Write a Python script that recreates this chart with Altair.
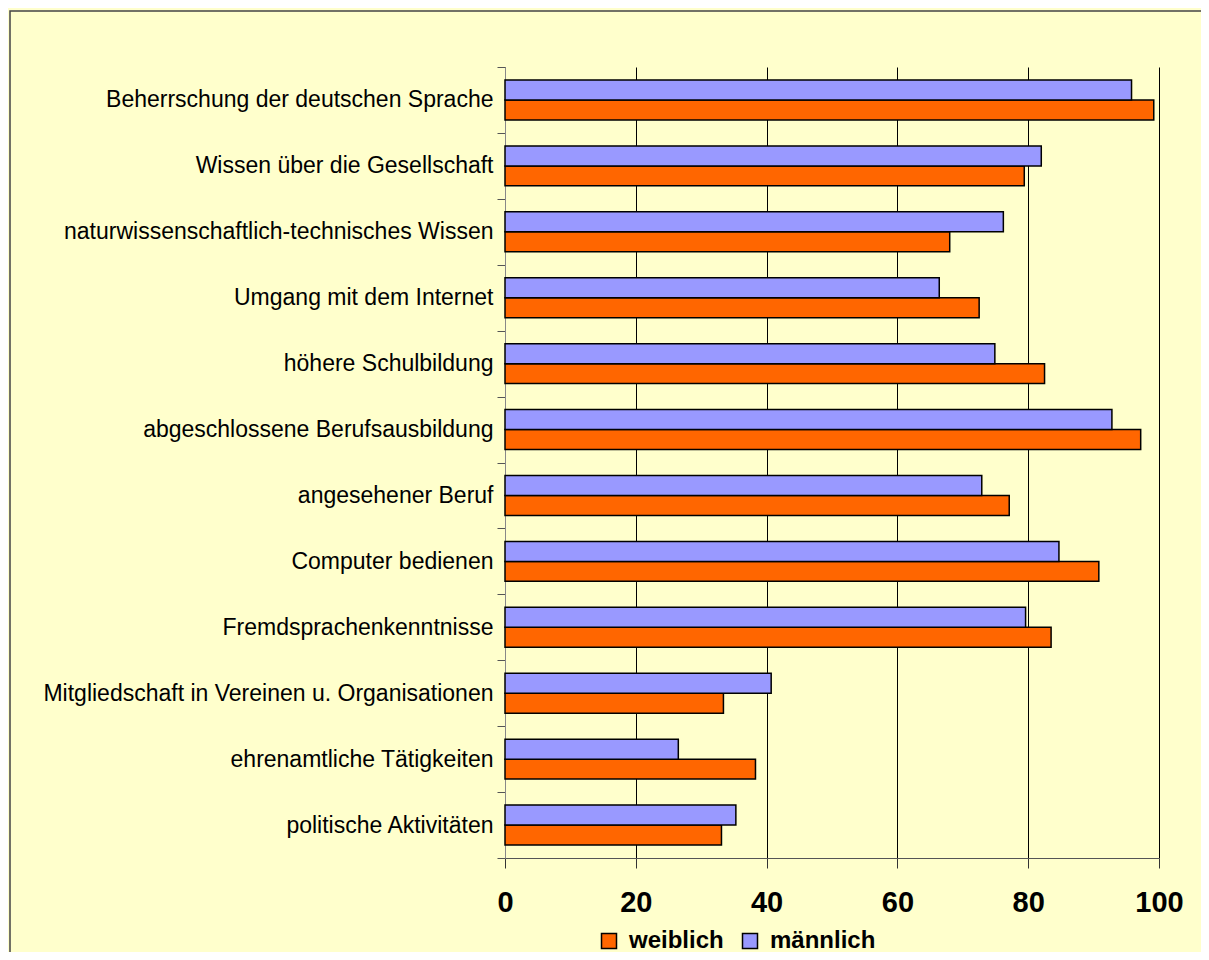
import altair as alt
import pandas as pd

categories = [
    "Beherrschung der deutschen Sprache",
    "Wissen über die Gesellschaft",
    "naturwissenschaftlich-technisches Wissen",
    "Umgang mit dem Internet",
    "höhere Schulbildung",
    "abgeschlossene Berufsausbildung",
    "angesehener Beruf",
    "Computer bedienen",
    "Fremdsprachenkenntnisse",
    "Mitgliedschaft in Vereinen u. Organisationen",
    "ehrenamtliche Tätigkeiten",
    "politische Aktivitäten",
]
weiblich = [99.2, 79.4, 68.0, 72.5, 82.5, 97.2, 77.1, 90.8, 83.5, 33.4, 38.3, 33.1]
maennlich = [95.8, 82.0, 76.2, 66.4, 74.9, 92.8, 72.9, 84.7, 79.6, 40.7, 26.5, 35.3]
series = ["weiblich", "männlich"]
colors = ["#FF6600", "#9999FF"]
ticks = [0, 20, 40, 60, 80, 100]

rows = []
for c, w, m in zip(categories, weiblich, maennlich):
    rows.append({"Kategorie": c, "Gruppe": "weiblich", "Wert": w})
    rows.append({"Kategorie": c, "Gruppe": "männlich", "Wert": m})
df = pd.DataFrame(rows)

FONT = "Liberation Sans"

bars = alt.Chart(df).mark_bar(stroke="#000000", strokeWidth=1.5).encode(
    y=alt.Y(
        "Kategorie:N",
        sort=categories,
        scale=alt.Scale(paddingInner=0, paddingOuter=0),
        axis=alt.Axis(
            title=None,
            labelFont=FONT,
            labelFontSize=23,
            labelColor="#000000",
            labelPadding=4,
            labelLimit=600,
            tickBand="extent",
            tickSize=8,
            tickColor="#555555",
            domainColor="#888888",
            grid=False,
        ),
    ),
    yOffset=alt.YOffset(
        "Gruppe:N",
        sort=["männlich", "weiblich"],
        scale=alt.Scale(paddingInner=0, paddingOuter=0.65),
    ),
    x=alt.X(
        "Wert:Q",
        scale=alt.Scale(domain=[0, 100], nice=False),
        axis=alt.Axis(
            title=None,
            values=ticks,
            grid=True,
            gridColor="#000000",
            gridOpacity=1,
            gridWidth=1,
            labelFont=FONT,
            labelFontSize=29,
            labelFontWeight="bold",
            labelColor="#000000",
            labelPadding=20,
            labelFlush=False,
            tickSize=10,
            tickColor="#333333",
            domainColor="#555555",
        ),
    ),
    color=alt.Color(
        "Gruppe:N",
        scale=alt.Scale(domain=series, range=colors),
        legend=alt.Legend(
            title=None,
            orient="none",
            direction="horizontal",
            legendX=92,
            legendY=862,
            symbolType="square",
            symbolSize=225,
            symbolStrokeColor="#000000",
            symbolStrokeWidth=1.5,
            symbolOpacity=1,
            labelFont=FONT,
            labelFontSize=24,
            labelFontWeight="bold",
            labelColor="#000000",
            labelOffset=8,
            columnPadding=14,
        ),
    ),
)

frame = alt.Chart(pd.DataFrame({"k": [0]})).mark_rect(
    fill=None, stroke="#444444", strokeWidth=1.5
).encode(
    x=alt.value(-495), x2=alt.value(760), y=alt.value(-56), y2=alt.value(960)
)

chart = alt.layer(frame, bars).properties(
    width=654,
    height=791,
    background="#FFFFCC",
    autosize=alt.AutoSizeParams(type="none"),
    padding={"left": 497, "top": 59, "right": 42, "bottom": 94},
).configure_view(stroke=None)

chart.save("out.html", embed_options={"renderer": "svg", "actions": False})
